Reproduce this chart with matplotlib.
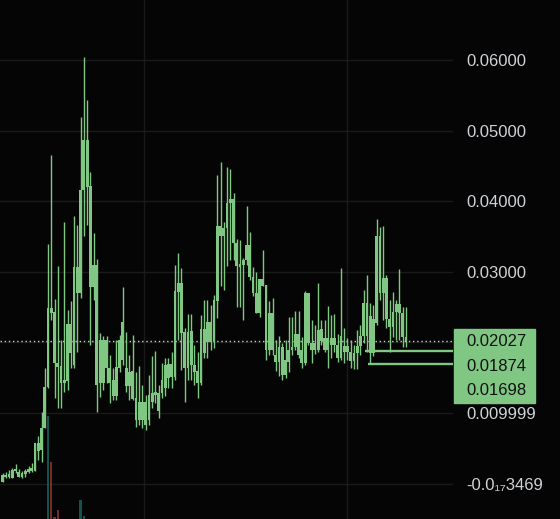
import matplotlib
matplotlib.use("Agg")
import matplotlib.pyplot as plt
from matplotlib.patches import Rectangle

# price series (one bar per period)
open_ = [0.00023, 0.00122, 0.00093, 0.00079, 0.00178, 0.00164, 0.00150, 0.00136, 0.00164, 0.00178,
         0.00178, 0.00575, 0.00476, 0.00787, 0.01368, 0.02487, 0.02431, 0.01708, 0.01666, 0.01425,
         0.01453, 0.02261, 0.01680, 0.03068, 0.02700, 0.04159, 0.04867, 0.04215, 0.02785, 0.03096,
         0.01425, 0.02034, 0.01637, 0.01637, 0.01467, 0.01241, 0.01637, 0.01751, 0.01637, 0.01382,
         0.01595, 0.01212, 0.00901, 0.01156, 0.00830, 0.00901, 0.01156, 0.01255, 0.01283, 0.01283,
         0.01354, 0.01694, 0.01510, 0.01510, 0.02714, 0.02841, 0.02147, 0.01637, 0.02161, 0.01680,
         0.01595, 0.01425, 0.02190, 0.02006, 0.02289, 0.02006, 0.02586, 0.03649, 0.03507, 0.03620,
         0.03975, 0.04031, 0.03408, 0.03068, 0.03096, 0.03167, 0.03379, 0.02926, 0.02700, 0.02416,
         0.02898, 0.02813, 0.01892, 0.02416, 0.01822, 0.01722, 0.01935, 0.01538, 0.01722, 0.01892,
         0.01935, 0.02119, 0.01708, 0.01708, 0.02700, 0.01992, 0.01892, 0.01892, 0.02020, 0.02062,
         0.01892, 0.02062, 0.01963, 0.01963, 0.01779, 0.01949, 0.01864, 0.01864, 0.01737, 0.01850,
         0.01949, 0.02091, 0.02558, 0.01850, 0.02331, 0.02275, 0.03507, 0.02700, 0.02912, 0.02331,
         0.02218, 0.02431, 0.02544, 0.02416, 0.02076]
close = [0.00122, 0.00093, 0.00136, 0.00193, 0.00207, 0.00093, 0.00093, 0.00178, 0.00207, 0.00221,
         0.00575, 0.00462, 0.00787, 0.01368, 0.02487, 0.02416, 0.01708, 0.01652, 0.01425, 0.01467,
         0.02261, 0.01850, 0.03068, 0.02700, 0.04159, 0.04867, 0.04201, 0.02785, 0.03096, 0.01397,
         0.02034, 0.01425, 0.02034, 0.01425, 0.01241, 0.01652, 0.02034, 0.02289, 0.01382, 0.01581,
         0.01198, 0.00901, 0.01156, 0.00901, 0.01156, 0.01255, 0.01283, 0.01297, 0.01028, 0.01467,
         0.01680, 0.01496, 0.01694, 0.02728, 0.02841, 0.02133, 0.01637, 0.02147, 0.01680, 0.01581,
         0.01425, 0.02190, 0.01850, 0.02289, 0.02006, 0.02601, 0.03649, 0.03507, 0.03620, 0.03975,
         0.04031, 0.03408, 0.03082, 0.03110, 0.03167, 0.03379, 0.02926, 0.02700, 0.02416, 0.02898,
         0.02799, 0.01892, 0.02416, 0.01892, 0.01722, 0.01935, 0.01538, 0.01751, 0.01892, 0.01935,
         0.02119, 0.01822, 0.01892, 0.02700, 0.01992, 0.01892, 0.01992, 0.02176, 0.02190, 0.01892,
         0.02062, 0.01963, 0.02062, 0.01779, 0.02091, 0.01864, 0.01949, 0.01737, 0.01850, 0.01949,
         0.02091, 0.02558, 0.02091, 0.02374, 0.01850, 0.03507, 0.02700, 0.02912, 0.02331, 0.02218,
         0.02431, 0.02544, 0.02416, 0.02076, 0.02027]
high = [0.00150, 0.00164, 0.00193, 0.00221, 0.00278, 0.00207, 0.00178, 0.00207, 0.00249, 0.00292,
        0.00575, 0.00674, 0.01014, 0.01637, 0.03394, 0.04654, 0.02615, 0.03082, 0.02034, 0.03705,
        0.02459, 0.02586, 0.03790, 0.03663, 0.05193, 0.06042, 0.05433, 0.04414, 0.03550, 0.03181,
        0.02133, 0.02091, 0.02091, 0.01822, 0.01637, 0.02034, 0.02105, 0.02785, 0.02147, 0.01822,
        0.02105, 0.01581, 0.01666, 0.01397, 0.01255, 0.01538, 0.01807, 0.01878, 0.01397, 0.01708,
        0.01779, 0.01779, 0.01864, 0.03096, 0.03266, 0.03054, 0.02204, 0.02402, 0.02402, 0.01963,
        0.01864, 0.02388, 0.02601, 0.02601, 0.02530, 0.02671, 0.04371, 0.04555, 0.03705, 0.04484,
        0.04456, 0.04116, 0.03465, 0.03450, 0.03195, 0.03932, 0.03564, 0.03068, 0.02997, 0.02898,
        0.03309, 0.02813, 0.02586, 0.02629, 0.02034, 0.02091, 0.01992, 0.02034, 0.02360, 0.02360,
        0.02445, 0.02445, 0.02076, 0.02728, 0.02700, 0.02317, 0.02246, 0.02841, 0.02317, 0.02317,
        0.02516, 0.02388, 0.02402, 0.02119, 0.03054, 0.02204, 0.02062, 0.02034, 0.01963, 0.02176,
        0.02246, 0.02742, 0.02955, 0.02558, 0.02530, 0.03748, 0.03635, 0.03649, 0.02955, 0.02601,
        0.02714, 0.02601, 0.03040, 0.02501, 0.02501]
low = [0.00023, 0.00079, 0.00079, 0.00079, 0.00150, 0.00093, 0.00079, 0.00093, 0.00150, 0.00164,
       0.00178, 0.00334, 0.00306, 0.00787, 0.01354, 0.02317, 0.01212, 0.01071, 0.01071, 0.01297,
       0.01326, 0.01637, 0.01637, 0.01864, 0.02629, 0.03507, 0.03663, 0.01963, 0.02601, 0.01014,
       0.01227, 0.01326, 0.01425, 0.01142, 0.01184, 0.01184, 0.01581, 0.01680, 0.01297, 0.01184,
       0.01184, 0.00802, 0.00830, 0.00787, 0.00759, 0.00830, 0.01071, 0.01142, 0.00929, 0.01212,
       0.01241, 0.01354, 0.01354, 0.01467, 0.02034, 0.01609, 0.01156, 0.01467, 0.01467, 0.01397,
       0.01212, 0.01397, 0.01779, 0.01779, 0.01892, 0.01921, 0.02346, 0.02799, 0.02742, 0.03082,
       0.03167, 0.03167, 0.02501, 0.02501, 0.02317, 0.03096, 0.02884, 0.02657, 0.02416, 0.02360,
       0.02799, 0.01751, 0.01822, 0.01822, 0.01595, 0.01524, 0.01467, 0.01496, 0.01581, 0.01822,
       0.01892, 0.01779, 0.01637, 0.01680, 0.01963, 0.01708, 0.01836, 0.01864, 0.01963, 0.01864,
       0.01637, 0.01779, 0.01864, 0.01722, 0.01751, 0.01708, 0.01751, 0.01637, 0.01623, 0.01623,
       0.01822, 0.01992, 0.01864, 0.01694, 0.01807, 0.02246, 0.02601, 0.02317, 0.02204, 0.01864,
       0.02076, 0.02034, 0.02034, 0.01935, 0.01935]

# volume only printed on a few early bars
vol_bar = [14, 15, 16, 17, 24, 25]
vol_value = [1030000, 570000, 20000, 90000, 190000, 30000]
vol_up = [True, False, False, False, True, True]

price_ticks = [0.0, 0.01, 0.03, 0.04, 0.05, 0.06]
price_tick_labels = ["-0.0\u2081\u20873469", "0.009999", "0.03000", "0.04000", "0.05000", "0.06000"]
time_grid = [43.5, 105.9]

last_price = 0.02027
order_lines = [0.01874, 0.01698]
order_start = [111.5, 112.2]
box_labels = ["0.02027", "0.01874", "0.01698"]

GREEN = "#81c784"
BG = "#050505"
GRID = "#1a1a1a"

fig = plt.figure(figsize=(5.6, 5.19), dpi=100, facecolor=BG)
ax = fig.add_axes([0, 0, 453 / 560, 1])
ax.set_facecolor(BG)

n = len(close)
xs = list(range(n))
ax.set_xlim(-0.77, 138.45)
ax.set_ylim(-0.00501, 0.0685)

for v in [0.0, 0.01, 0.02, 0.03, 0.04, 0.05, 0.06]:
    ax.axhline(v, color=GRID, lw=1, zorder=0)
for t in time_grid:
    ax.axvline(t, color=GRID, lw=1, zorder=0)

# wicks + bodies
ax.vlines(xs, low, high, color=GREEN, lw=1.0, zorder=2)
bottoms = [min(o, c) for o, c in zip(open_, close)]
heights = [max(abs(c - o), 0.00014) for o, c in zip(open_, close)]
ax.bar(xs, heights, bottom=bottoms, width=0.86, color=GREEN, lw=0, zorder=3)

# last price dotted line
ax.axhline(last_price, color="#b8d8ba", lw=1, ls=(0, (1, 2)), zorder=1)

# order lines
for p, s in zip(order_lines, order_start):
    ax.hlines(p, s, 138.45, color=GREEN, lw=1.7, zorder=4)

# volume
vax = ax.twinx()
vax.set_ylim(0, 5190000)
vax.bar(vol_bar, vol_value, width=0.7,
        color=["#13534d" if u else "#782a28" for u in vol_up], lw=0)
vax.axis("off")
vax.set_xlim(ax.get_xlim())

for s in ax.spines.values():
    s.set_visible(False)
ax.set_xticks([])
ax.yaxis.tick_right()
ax.set_yticks(price_ticks)
ax.set_yticklabels(price_tick_labels)
ax.tick_params(axis="y", length=0, pad=9.5, labelcolor="#cfd2d6")
for lab in ax.get_yticklabels():
    lab.set_fontfamily(["Liberation Sans", "DejaVu Sans"])
    lab.set_fontsize(12)

# price label box on the scale
fig.patches.append(Rectangle((454 / 560, 1 - 403 / 519), 81 / 560, 74 / 519,
                             transform=fig.transFigure, color=GREEN, zorder=5))
for lab, ypx in zip(box_labels, [341.7, 366.7, 390.7]):
    fig.text(466 / 560, 1 - ypx / 519, lab, color="#111111", fontsize=12,
             family="Liberation Sans", va="center", ha="left", zorder=6)

fig.savefig("out.png", dpi=100, facecolor=BG)
